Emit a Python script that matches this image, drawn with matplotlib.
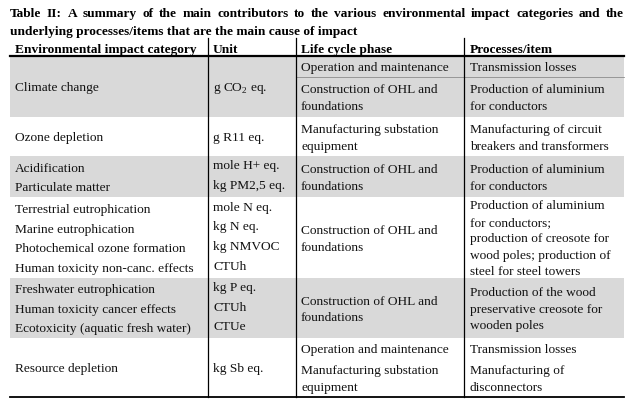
import matplotlib
matplotlib.use("Agg")
import matplotlib.pyplot as plt

plt.rcParams['font.family'] = ['Liberation Serif', 'DejaVu Serif']
plt.rcParams['mathtext.fontset'] = 'custom'
plt.rcParams['mathtext.rm'] = 'Liberation Serif'

# table content
title_line1 = "Table II: A summary of the main contributors to the various environmental impact categories and the"
title_line2 = "underlying processes/items that are the main cause of impact"
headers = ["Environmental impact category", "Unit", "Life cycle phase", "Processes/item"]

categories = [
    ["Climate change"],
    ["Ozone depletion"],
    ["Acidification", "Particulate matter"],
    ["Terrestrial eutrophication", "Marine eutrophication",
     "Photochemical ozone formation", "Human toxicity non-canc. effects"],
    ["Freshwater eutrophication", "Human toxicity cancer effects",
     "Ecotoxicity (aquatic fresh water)"],
    ["Resource depletion"],
]
units = [
    [r"g CO$_\mathrm{2}$ eq."],
    ["g R11 eq."],
    ["mole H+ eq.", "kg PM2,5 eq."],
    ["mole N eq.", "kg N eq.", "kg NMVOC", "CTUh"],
    ["kg P eq.", "CTUh", "CTUe"],
    ["kg Sb eq."],
]
phases = [
    [["Operation and maintenance"], ["Construction of OHL and", "foundations"]],
    [["Manufacturing substation", "equipment"]],
    [["Construction of OHL and", "foundations"]],
    [["Construction of OHL and", "foundations"]],
    [["Construction of OHL and", "foundations"]],
    [["Operation and maintenance"], ["Manufacturing substation", "equipment"]],
]
processes = [
    [["Transmission losses"], ["Production of aluminium", "for conductors"]],
    [["Manufacturing of circuit", "breakers and transformers"]],
    [["Production of aluminium", "for conductors"]],
    [["Production of aluminium", "for conductors;", "production of creosote for",
      "wood poles; production of", "steel for steel towers"]],
    [["Production of the wood", "preservative creosote for", "wooden poles"]],
    [["Transmission losses"], ["Manufacturing of", "disconnectors"]],
]
shaded = [True, False, True, False, True, False]

# layout (pixels)
W, H = 632, 408
left, right = 10, 624
col_x = [left, 208, 296, 464, right]
text_x = [15, 213, 301, 470]
row_edges = [56, 117, 156, 197, 278, 338, 397]
first_sub = 20.5
gray = '#d9d9d9'
fs = 9.6
fs_title = 9.6
base = 4.8        # baseline offset below the line centre
sp_wide = 19.6    # line spacing in the first two columns
sp_tight = 16.5   # line spacing in the last two columns

fig = plt.figure(figsize=(W / 100, H / 100), dpi=100)
ax = fig.add_axes([0, 0, 1, 1])
ax.set_xlim(0, W)
ax.set_ylim(H, 0)
ax.axis('off')


def put_lines(x, top, bottom, lines, spacing, shift=0.0):
    mid = (top + bottom) / 2 + shift
    n = len(lines)
    for i, s in enumerate(lines):
        y = mid + (i - (n - 1) / 2) * spacing
        ax.text(x, y + base, s, fontsize=fs, va='baseline', ha='left', color='#111111')


# shaded rows
for i, sh in enumerate(shaded):
    if sh:
        ax.fill_between([left, right], row_edges[i], row_edges[i + 1], color=gray, lw=0, zorder=0)

# cells
for i in range(len(categories)):
    top, bot = row_edges[i], row_edges[i + 1]
    put_lines(text_x[0], top, bot, categories[i], sp_wide)
    put_lines(text_x[1], top, bot, units[i], sp_wide, shift=-2.2 if len(units[i]) > 1 else 0)
    if len(phases[i]) == 2:
        subs = [(top, top + first_sub), (top + first_sub, bot)]
    else:
        subs = [(top, bot)]
    for (t, b), ph, pr in zip(subs, phases[i], processes[i]):
        put_lines(text_x[2], t, b, ph, sp_tight)
        put_lines(text_x[3], t, b, pr, sp_tight)
    if len(subs) == 2 and shaded[i]:
        ax.plot([col_x[2], right], [top + first_sub] * 2, color='#8c8c8c', lw=0.6)

# rules
for x in col_x[1:4]:
    ax.plot([x, x], [38, row_edges[-1]], color='black', lw=0.9)
ax.plot([left, right], [row_edges[0]] * 2, color='black', lw=1.6)
ax.plot([left, right], [row_edges[-1]] * 2, color='black', lw=1.3)

# header
for x, h in zip(text_x, headers):
    ax.text(x, 48 + base, h, fontsize=fs, fontweight='bold', va='baseline')

# title, first line justified across the table width
renderer = fig.canvas.get_renderer()
words = title_line1.split(' ')
objs = [ax.text(0, 12 + base, w, fontsize=fs_title, fontweight='bold', va='baseline') for w in words]
widths = [o.get_window_extent(renderer).width for o in objs]
gap = (right - left - sum(widths)) / (len(words) - 1)
x = left
for o, w in zip(objs, widths):
    o.set_x(x)
    x += w + gap
ax.text(left, 30 + base, title_line2, fontsize=fs_title, fontweight='bold', va='baseline')

fig.savefig('out.png', dpi=100)
